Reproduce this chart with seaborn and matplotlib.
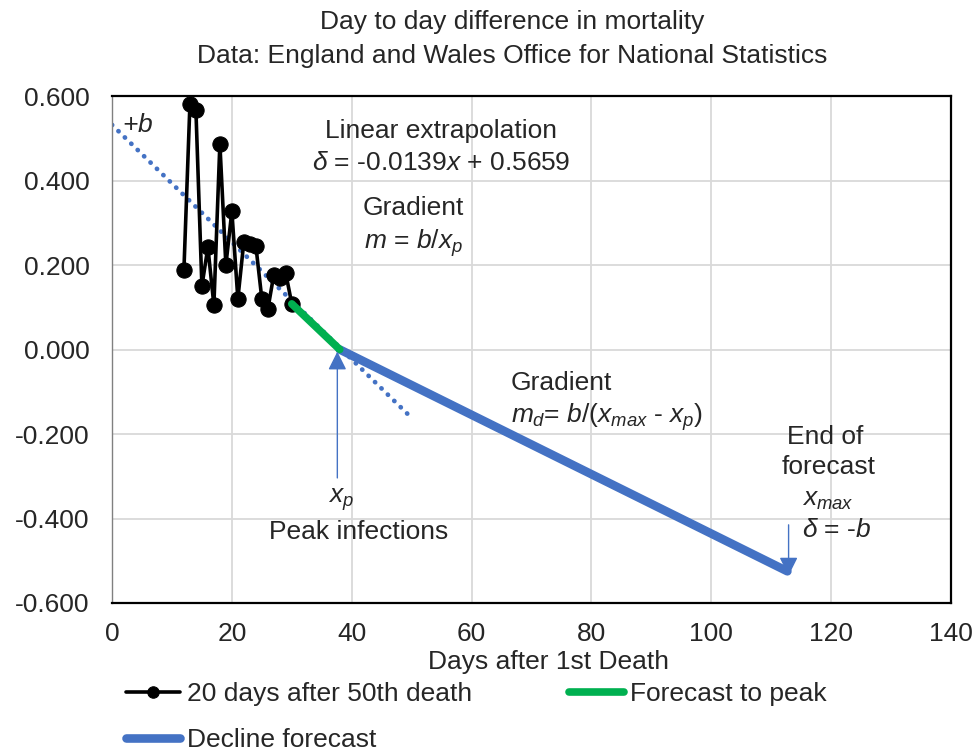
import numpy as np
import pandas as pd
import seaborn as sns
import matplotlib.pyplot as plt

# --- data ---
days = [12, 13, 14, 15, 16, 17, 18, 19, 20, 21, 22, 23, 24, 25, 26, 27, 28, 29, 30]
delta = [0.188, 0.580, 0.567, 0.150, 0.242, 0.105, 0.487, 0.200, 0.327, 0.120,
         0.255, 0.250, 0.246, 0.120, 0.095, 0.177, 0.170, 0.180, 0.108]

peak_day = 38.0          # x_p
end_day = 112.7          # x_max
end_delta = -0.525       # -b at end of forecast
trend_span = [0, 50]     # range of the dotted extrapolation

forecast_x = [days[-1], peak_day]
forecast_y = [delta[-1], 0.0]
decline_x = [peak_day, end_day]
decline_y = [0.0, end_delta]

BLUE = '#4472C4'
GREEN = '#00B050'

sns.set_theme(style='white')
plt.rcParams['font.family'] = ['Liberation Sans', 'DejaVu Sans']
plt.rcParams['axes.unicode_minus'] = False
plt.rcParams['mathtext.fontset'] = 'custom'
plt.rcParams['mathtext.rm'] = 'Liberation Sans'
plt.rcParams['mathtext.it'] = 'Liberation Sans:italic'

FS = 19

fig = plt.figure(figsize=(9.78, 7.52), dpi=100)
ax = fig.add_axes([112 / 978, 1 - 603 / 752, 839 / 978, 507 / 752])

# linear trend of the observed points, extended both ways
slope, intercept = np.polyfit(days, delta, 1)
trend = pd.DataFrame({'x': trend_span})
trend['y'] = slope * trend['x'] + intercept
sns.lineplot(data=trend, x='x', y='y', ax=ax, color=BLUE, lw=3.4,
             linestyle=(0, (0.05, 1.85)), dash_capstyle='round', legend=False)

obs = pd.DataFrame({'day': days, 'delta': delta})
sns.lineplot(data=obs, x='day', y='delta', ax=ax, color='black', lw=2.6,
             marker='o', markersize=11, markeredgecolor='black',
             label='20 days after 50th death')
sns.lineplot(x=decline_x, y=decline_y, ax=ax, color=BLUE, lw=6.2,
             solid_capstyle='round', label='Decline forecast')
sns.lineplot(x=forecast_x, y=forecast_y, ax=ax, color=GREEN, lw=5.5,
             solid_capstyle='round', label='Forecast to peak')

ax.set_xlim(0, 140)
ax.set_ylim(-0.6, 0.6)
ax.set_xticks(np.arange(0, 141, 20))
ax.set_yticks(np.arange(-0.6, 0.61, 0.2))
ax.set_yticklabels([f'{v:.3f}' for v in np.arange(-0.6, 0.61, 0.2)])
ax.grid(True, color='#D9D9D9', lw=1.3)
ax.tick_params(axis='both', length=0, labelsize=FS)
ax.tick_params(axis='x', pad=14)
ax.tick_params(axis='y', pad=16)
for side in ['top', 'right', 'bottom']:
    ax.spines[side].set_color('black')
    ax.spines[side].set_linewidth(1.6)
ax.spines['left'].set_color('#808080')
ax.spines['left'].set_linewidth(1.0)

ax.set_ylabel('')
ax.set_xlabel('Days after 1st Death', fontsize=FS)
ax.xaxis.set_label_coords(0.52, -0.093)
ax.xaxis.label.set_va('top')

# annotations
ax.text(4.2, 0.531, '+$b$', fontsize=FS, ha='center', va='center', style='italic')
ax.text(54.9, 0.517, 'Linear extrapolation', fontsize=FS, ha='center', va='center')
ax.text(54.9, 0.441, r'$\delta$ = -0.0139$x$ + 0.5659', fontsize=FS, ha='center', va='center')
ax.text(50.3, 0.335, 'Gradient', fontsize=FS, ha='center', va='center')
ax.text(50.3, 0.252, r'$m$ = $b/x_p$', fontsize=FS, ha='center', va='center')
ax.text(66.6, -0.079, 'Gradient', fontsize=FS, ha='left', va='center')
ax.text(66.6, -0.160, r'$m_d$= $b/(x_{max}$ - $x_p)$', fontsize=FS, ha='left', va='center')
ax.text(38.2, -0.355, r'$x_p$', fontsize=FS, ha='center', va='center')
ax.text(41.1, -0.432, 'Peak infections', fontsize=FS, ha='center', va='center')
ax.text(119.0, -0.207, 'End of', fontsize=FS, ha='center', va='center')
ax.text(119.5, -0.278, 'forecast', fontsize=FS, ha='center', va='center')
ax.text(115.2, -0.356, r'$x_{max}$', fontsize=FS, ha='left', va='center')
ax.text(115.2, -0.427, r'$\delta$ = -$b$', fontsize=FS, ha='left', va='center')

arrow = dict(arrowstyle='-|>', color=BLUE, lw=1.0, mutation_scale=28, shrinkA=0, shrinkB=0)
ax.annotate('', xy=(37.6, -0.005), xytext=(37.6, -0.304), arrowprops=arrow)
ax.annotate('', xy=(112.9, -0.535), xytext=(112.9, -0.415), arrowprops=arrow)

# title
fig.text(512 / 978, 1 - 10 / 752,
         'Day to day difference in mortality\nData: England and Wales Office for National Statistics',
         fontsize=FS, ha='center', va='top', linespacing=1.5)

# legend below the axes
handles, labels = ax.get_legend_handles_labels()
ax.get_legend().remove()
order = [labels.index(l) for l in ['20 days after 50th death', 'Decline forecast', 'Forecast to peak']]
fig.legend([handles[i] for i in order], [labels[i] for i in order],
           loc='upper left', bbox_to_anchor=(126 / 978, 1 - 682 / 752),
           ncol=2, frameon=False, fontsize=FS, handlelength=2.05,
           handletextpad=0.25, columnspacing=3.7, labelspacing=0.83,
           borderpad=0, borderaxespad=0, markerscale=0.75)

fig.savefig('out.png', dpi=100)
